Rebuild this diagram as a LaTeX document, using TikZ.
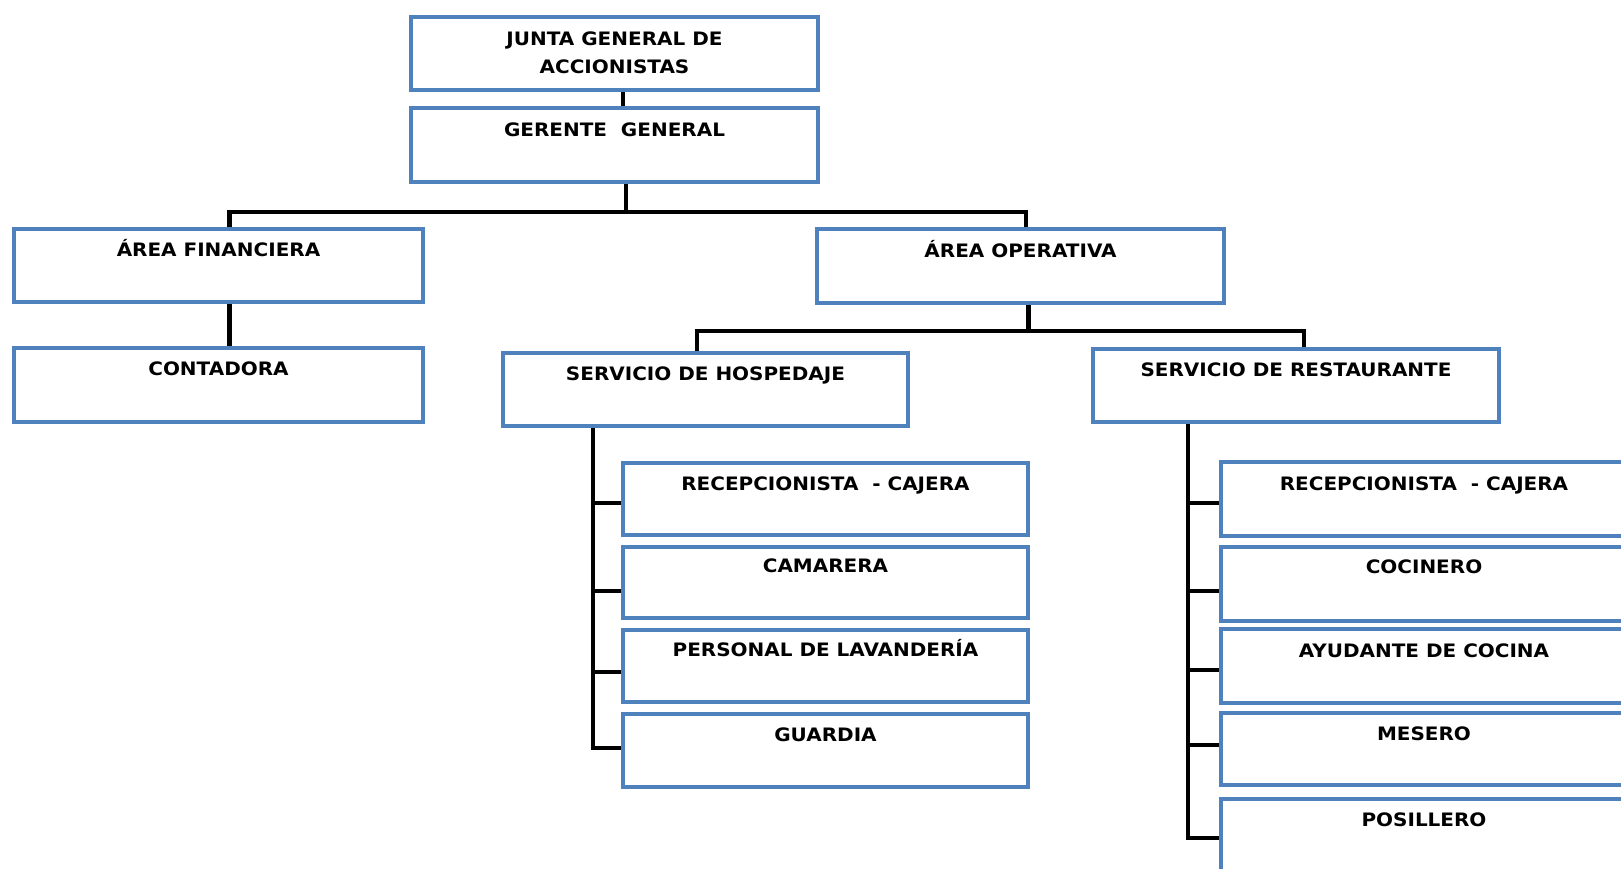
\documentclass[tikz,border=0pt]{standalone}
\usepackage{fontspec}
\usepackage{graphicx}
\setmainfont{DejaVu Sans}
\definecolor{boxblue}{HTML}{4F81BD}
\newcommand{\stxt}[1]{\scalebox{1.08}[1]{#1}}
\begin{document}
\begin{tikzpicture}[x=1pt,y=1pt,
  orgbox/.style={draw=boxblue, line width=3.5pt, fill=white, inner sep=0pt,
    minimum width=406pt, minimum height=73pt, text height=13.5pt, text depth=31.5pt,
    font=\fontsize{18.5pt}{28pt}\selectfont\bfseries},
  conn/.style={draw=black, line width=4.5pt, line join=miter}]
\useasboundingbox (0,0) rectangle (1621,-868);
\clip (0,0) rectangle (1621,-868);

% boxes
\node[orgbox, minimum width=407pt, text depth=29.5pt] (junta) at (614.5,-53.5)
  {\stxt{\begin{tabular}[t]{@{}c@{}}JUNTA GENERAL DE\\ACCIONISTAS\end{tabular}}};
\node[orgbox, minimum width=407pt, minimum height=74pt, text depth=30.5pt] (gg) at (614.5,-145) {\stxt{GERENTE\ \ GENERAL}};
\node[orgbox, minimum width=409pt] (af) at (218.5,-265.5) {\stxt{ÁREA FINANCIERA}};
\node[orgbox, minimum width=407pt, minimum height=74pt, text depth=30.5pt] (ao) at (1020.5,-266) {\stxt{ÁREA OPERATIVA}};
\node[orgbox, minimum width=409pt, minimum height=74pt, text depth=32.5pt] (cont) at (218.5,-385) {\stxt{CONTADORA}};
\node[orgbox, minimum width=405pt] (hosp) at (705.5,-389.5) {\stxt{SERVICIO DE HOSPEDAJE}};
\node[orgbox] (rest) at (1296,-385.5) {\stxt{SERVICIO DE RESTAURANTE}};

\node[orgbox, minimum width=405pt, minimum height=72pt] (h1) at (825.5,-499) {\stxt{RECEPCIONISTA\ \ - CAJERA}};
\node[orgbox, minimum width=405pt, minimum height=71pt, text depth=33.5pt] (h2) at (825.5,-582.5) {\stxt{CAMARERA}};
\node[orgbox, minimum width=405pt, minimum height=72pt, text depth=33.5pt] (h3) at (825.5,-666) {\stxt{PERSONAL DE LAVANDERÍA}};
\node[orgbox, minimum width=405pt] (h4) at (825.5,-750.5) {\stxt{GUARDIA}};

\node[orgbox, minimum height=74pt, text depth=30.5pt] (r1) at (1424,-499) {\stxt{RECEPCIONISTA\ \ - CAJERA}};
\node[orgbox, minimum height=74pt, text depth=34.5pt] (r2) at (1424,-584) {\stxt{COCINERO}};
\node[orgbox, minimum height=74pt, text depth=30.5pt] (r3) at (1424,-666) {\stxt{AYUDANTE DE COCINA}};
\node[orgbox, minimum height=72pt, text depth=30.5pt] (r4) at (1424,-749) {\stxt{MESERO}};
\node[orgbox] (r5) at (1424,-835.5) {\stxt{POSILLERO}};

% connectors
\draw[conn] ([xshift=8.5pt]junta.south) -- ([xshift=8.5pt]gg.north);
\draw[conn] ([xshift=11.5pt]gg.south) -- ++(0,-28pt) coordinate (b1);
\draw[conn] ([xshift=11pt]af.north) |- (b1) -| ([xshift=5.5pt]ao.north);
\draw[conn] ([xshift=11pt]af.south) -- ([xshift=11pt]cont.north);
\draw[conn] ([xshift=8pt]ao.south) -- ++(0,-26pt) coordinate (b2);
\draw[conn] ([xshift=-8.5pt]hosp.north) |- (b2) -| ([xshift=8pt]rest.north);

% hospedaje column
\coordinate (hv) at ([xshift=-112.5pt]hosp.south);
\coordinate (h1b) at ([yshift=-4pt]h1.west);
\coordinate (h2b) at ([yshift=-8.5pt]h2.west);
\coordinate (h3b) at ([yshift=-6pt]h3.west);
\coordinate (h4b) at ([yshift=2.5pt]h4.west);
\draw[conn] (hv) |- (h4b);
\draw[conn] (hv |- h1b) -- (h1b);
\draw[conn] (hv |- h2b) -- (h2b);
\draw[conn] (hv |- h3b) -- (h3b);

% restaurante column
\coordinate (rv) at ([xshift=-108pt]rest.south);
\coordinate (r1b) at ([yshift=-4pt]r1.west);
\coordinate (r2b) at ([yshift=-7pt]r2.west);
\coordinate (r3b) at ([yshift=-4pt]r3.west);
\coordinate (r4b) at ([yshift=4pt]r4.west);
\coordinate (r5b) at ([yshift=-2.5pt]r5.west);
\draw[conn] (rv) |- (r5b);
\draw[conn] (rv |- r1b) -- (r1b);
\draw[conn] (rv |- r2b) -- (r2b);
\draw[conn] (rv |- r3b) -- (r3b);
\draw[conn] (rv |- r4b) -- (r4b);
\end{tikzpicture}
\end{document}
